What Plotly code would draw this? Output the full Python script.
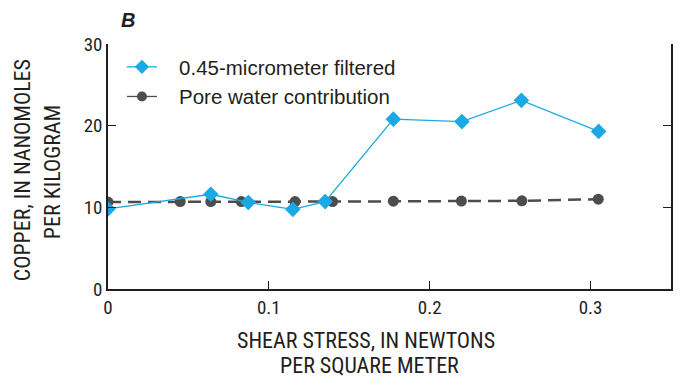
import plotly.graph_objects as go

# Data
filt_x = [0.0, 0.0639, 0.0872, 0.1149, 0.135, 0.1774, 0.220, 0.257, 0.305]
filt_y = [9.8, 11.6, 10.6, 9.75, 10.7, 20.8, 20.5, 23.1, 19.3]
pore_x = [0.0, 0.0449, 0.0639, 0.0829, 0.1163, 0.1396, 0.1774, 0.2197, 0.2573, 0.3048]
pore_y = [10.65, 10.7, 10.7, 10.7, 10.7, 10.7, 10.75, 10.77, 10.8, 11.0]
x_ticks = [0, 0.1, 0.2, 0.3]
x_ticktext = ["0", "0.1", "0.2", "0.3"]
y_ticks = [0, 10, 20, 30]
names = ["0.45-micrometer filtered", "Pore water contribution"]

FONT = "Liberation Sans Narrow, Roboto Condensed, Arial Narrow, Liberation Sans, sans-serif"
LFONT = "Liberation Sans, Arial, sans-serif"
BLUE = "#1AA9E5"
GREY = "#4D4D4D"
INK = "#231F20"

L, R, T, B = 108, 10, 44, 89
W, H = 683, 378
PW, PH = W - L - R, H - T - B


def px(xp):
    return (xp - L) / PW


def py(yp):
    return (H - B - yp) / PH


fig = go.Figure()
fig.add_trace(go.Scatter(
    x=pore_x, y=pore_y, mode="lines+markers", showlegend=False,
    line=dict(color=GREY, width=2.5, dash="13px,7px"),
    marker=dict(symbol="circle", size=11, color=GREY),
))
fig.add_trace(go.Scatter(
    x=filt_x, y=filt_y, mode="lines+markers", showlegend=False,
    line=dict(color=BLUE, width=1.3),
    marker=dict(symbol="diamond", size=12, color=BLUE),
))
# legend entries (solid samples, as in the reference legend)
pad = "\u00a0\u00a0\u00a0"
fig.add_trace(go.Scatter(
    x=[None], y=[None], mode="lines+markers", name=pad + names[0],
    line=dict(color=BLUE, width=1.3), marker=dict(symbol="diamond", size=11, color=BLUE),
))
fig.add_trace(go.Scatter(
    x=[None], y=[None], mode="lines+markers", name=pad + names[1],
    line=dict(color=GREY, width=1.3), marker=dict(symbol="circle", size=10, color=GREY),
))

fig.update_layout(
    width=W, height=H,
    margin=dict(l=L, r=R, t=T, b=B),
    plot_bgcolor="white", paper_bgcolor="white",
    font=dict(family=FONT, size=19, color=INK),
    showlegend=True,
    legend=dict(x=px(122), y=py(47), xanchor="left", yanchor="top",
                bgcolor="rgba(0,0,0,0)", font=dict(size=20.5, family=LFONT, color=INK),
                tracegroupgap=0),
    xaxis=dict(range=[0, 0.35], tickvals=x_ticks, ticktext=x_ticktext,
               showline=True, linecolor=INK, linewidth=1.5, ticks="inside",
               ticklen=8, tickcolor=INK, tickwidth=1.2, showgrid=False, zeroline=False,
               mirror=False),
    yaxis=dict(range=[0, 30], tickvals=y_ticks, showline=True, linecolor=INK,
               linewidth=1.5, ticks="inside", ticklen=8, tickcolor=INK, tickwidth=1.2,
               showgrid=False, zeroline=False, mirror="ticks"),
)

fig.add_annotation(text="<b><i>B</i></b>", xref="paper", yref="paper",
                   x=px(128), y=py(20), xanchor="center", yanchor="middle",
                   showarrow=False, font=dict(size=20, family=LFONT, color=INK))

fig.add_annotation(text="COPPER, IN NANOMOLES", textangle=-90,
                   xref="paper", yref="paper", x=px(22), y=py(170),
                   xanchor="center", yanchor="middle",
                   showarrow=False, font=dict(size=22))
fig.add_annotation(text="PER KILOGRAM", textangle=-90,
                   xref="paper", yref="paper", x=px(52), y=py(172),
                   xanchor="center", yanchor="middle",
                   showarrow=False, font=dict(size=22))
fig.add_annotation(text="SHEAR STRESS, IN NEWTONS",
                   xref="paper", yref="paper", x=px(367), y=py(340),
                   xanchor="center", yanchor="middle",
                   showarrow=False, font=dict(size=22))
fig.add_annotation(text="PER SQUARE METER",
                   xref="paper", yref="paper", x=px(370), y=py(365),
                   xanchor="center", yanchor="middle",
                   showarrow=False, font=dict(size=22))

fig.write_html("out.html")
